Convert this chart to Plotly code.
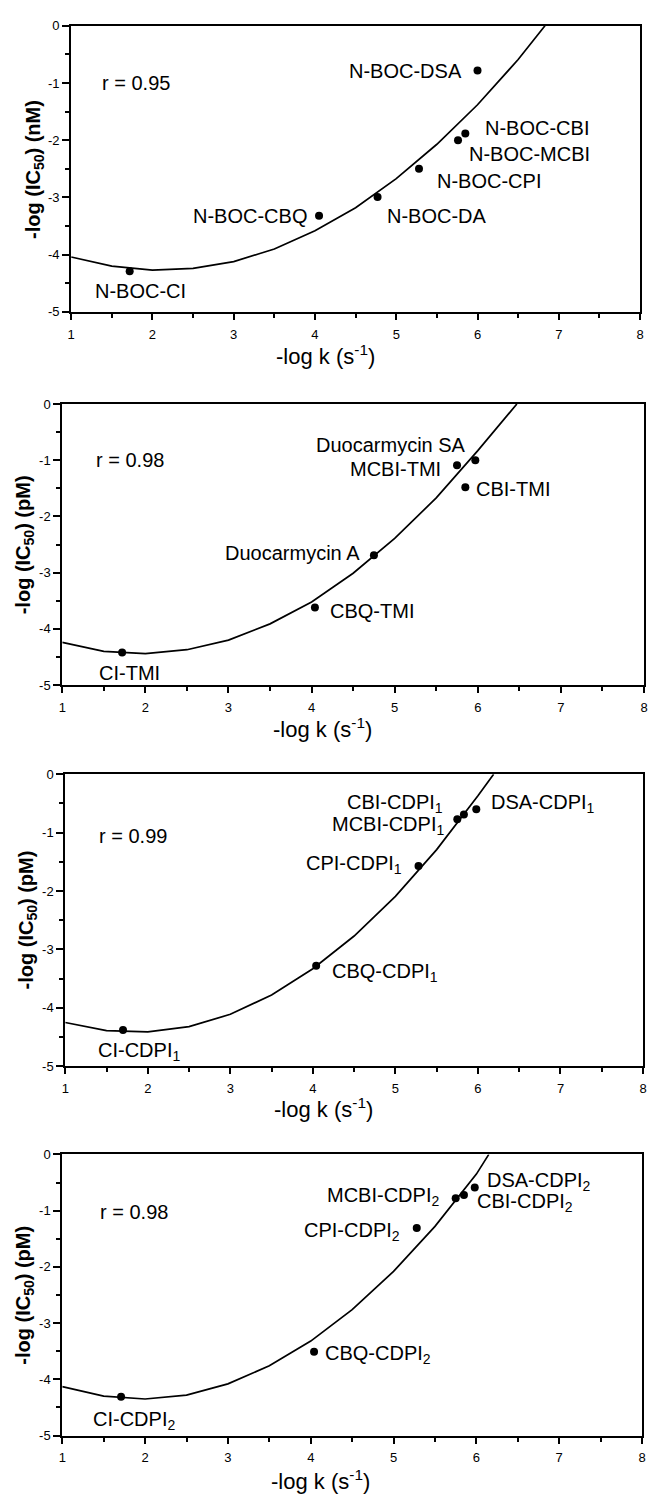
import plotly.graph_objects as go

W, H = 649, 1499

# ---------------- data ----------------
x_tick_vals = [1, 2, 3, 4, 5, 6, 7, 8]
x_tick_text = ["1", "2", "3", "4", "5", "6", "7", "8"]
y_tick_vals = [0, -1, -2, -3, -4, -5]
y_tick_text = ["0", "-1", "-2", "-3", "-4", "-5"]

# Panel 1 (nM)
p1_names = ["N-BOC-CI", "N-BOC-CBQ", "N-BOC-DA", "N-BOC-CPI", "N-BOC-MCBI", "N-BOC-CBI", "N-BOC-DSA"]
p1_x = [1.72, 4.05, 4.77, 5.28, 5.76, 5.85, 6.00]
p1_y = [-4.29, -3.32, -2.99, -2.50, -2.00, -1.88, -0.78]
p1_fit_x = [1.0, 1.5, 2.0, 2.5, 3.0, 3.5, 4.0, 4.5, 5.0, 5.5, 6.0, 6.5, 6.83]
p1_fit_y = [-4.04, -4.20, -4.27, -4.24, -4.12, -3.90, -3.58, -3.18, -2.67, -2.07, -1.38, -0.59, 0.0]
p1_r = "r = 0.95"
p1_ytitle = "-log (IC<sub>50</sub>) (nM)"

# Panel 2 (pM)
p2_names = ["CI-TMI", "CBQ-TMI", "Duocarmycin A", "MCBI-TMI", "CBI-TMI", "Duocarmycin SA"]
p2_x = [1.72, 4.04, 4.75, 5.75, 5.85, 5.97]
p2_y = [-4.42, -3.62, -2.69, -1.09, -1.48, -1.00]
p2_fit_x = [1.0, 1.5, 2.0, 2.5, 3.0, 3.5, 4.0, 4.5, 5.0, 5.5, 6.0, 6.47]
p2_fit_y = [-4.24, -4.40, -4.44, -4.37, -4.20, -3.91, -3.52, -3.01, -2.39, -1.67, -0.83, 0.0]
p2_r = "r = 0.98"
p2_ytitle = "-log (IC<sub>50</sub>) (pM)"

# Panel 3 (pM)
p3_names = ["CI-CDPI<sub>1</sub>", "CBQ-CDPI<sub>1</sub>", "CPI-CDPI<sub>1</sub>",
            "MCBI-CDPI<sub>1</sub>", "CBI-CDPI<sub>1</sub>", "DSA-CDPI<sub>1</sub>"]
p3_x = [1.70, 4.04, 5.28, 5.75, 5.83, 5.98]
p3_y = [-4.38, -3.28, -1.57, -0.77, -0.69, -0.60]
p3_fit_x = [1.0, 1.5, 2.0, 2.5, 3.0, 3.5, 4.0, 4.5, 5.0, 5.5, 6.0, 6.19]
p3_fit_y = [-4.25, -4.39, -4.41, -4.32, -4.11, -3.78, -3.33, -2.77, -2.09, -1.29, -0.37, 0.0]
p3_r = "r = 0.99"
p3_ytitle = "-log (IC<sub>50</sub>) (pM)"

# Panel 4 (pM)
p4_names = ["CI-CDPI<sub>2</sub>", "CBQ-CDPI<sub>2</sub>", "CPI-CDPI<sub>2</sub>",
            "MCBI-CDPI<sub>2</sub>", "CBI-CDPI<sub>2</sub>", "DSA-CDPI<sub>2</sub>"]
p4_x = [1.71, 4.04, 5.28, 5.75, 5.85, 5.98]
p4_y = [-4.31, -3.51, -1.31, -0.78, -0.72, -0.59]
p4_fit_x = [1.0, 1.5, 2.0, 2.5, 3.0, 3.5, 4.0, 4.5, 5.0, 5.5, 6.0, 6.15]
p4_fit_y = [-4.13, -4.30, -4.35, -4.28, -4.08, -3.76, -3.32, -2.76, -2.08, -1.28, -0.35, 0.0]
p4_r = "r = 0.98"
p4_ytitle = "-log (IC<sub>50</sub>) (pM)"

x_title = "-log k (s<sup>-1</sup>)"

# ---------------- layout (positions / styles) ----------------
FONT = "Liberation Sans, Arial, Helvetica, sans-serif"
LABEL_SIZE = 20

# label placement relative to its point: (xanchor, xshift px, yshift px)
p1_lab = [("center", 11, -20), ("right", -10, 0), ("left", 7, -19), ("left", 16, -12),
          ("left", 9, -14), ("left", 18, 5), ("right", -14, -1)]
p2_lab = [("center", 7, -20), ("left", 13, -3), ("right", -12, 2), ("right", -14, -4),
          ("left", 9, -2), ("right", -7, 15)]
p3_lab = [("center", 16, -21), ("left", 14, -7), ("right", -15, 1), ("right", -11, -6),
          ("right", -19, 11), ("left", 13, 6)]
p4_lab = [("center", 13, -24), ("left", 9, -3), ("right", -15, -3), ("right", -15, 2),
          ("left", 11, -8), ("left", 10, 6)]

# panel pixel boxes: (left, right, top, bottom)
boxes = [(68, 644, 19, 308), (59, 648, 401, 685), (62, 647, 775, 1070), (59, 646, 1159, 1443)]
ytitle_px = [(31, 164), (21, 543), (24, 922), (21, 1301)]
xtitle_px = [(326, 352), (322, 728), (323, 1112), (320, 1488)]
r_pos = [(1.36, -1.0), (1.38, -0.99), (1.39, -1.05), (1.43, -1.02)]

panels = [
    (p1_names, p1_x, p1_y, p1_fit_x, p1_fit_y, p1_r, p1_ytitle, p1_lab),
    (p2_names, p2_x, p2_y, p2_fit_x, p2_fit_y, p2_r, p2_ytitle, p2_lab),
    (p3_names, p3_x, p3_y, p3_fit_x, p3_fit_y, p3_r, p3_ytitle, p3_lab),
    (p4_names, p4_x, p4_y, p4_fit_x, p4_fit_y, p4_r, p4_ytitle, p4_lab),
]

fig = go.Figure()
annotations = []
layout_axes = {}

for i, (names, px, py, fx, fy, rtxt, ytit, labs) in enumerate(panels):
    n = "" if i == 0 else str(i + 1)
    xa, ya = "x" + n, "y" + n
    L, R, T, B = boxes[i]

    fig.add_trace(go.Scatter(x=fx, y=fy, mode="lines", xaxis=xa, yaxis=ya,
                             line=dict(color="black", width=1.7), showlegend=False,
                             hoverinfo="skip"))
    fig.add_trace(go.Scatter(x=px, y=py, mode="markers", xaxis=xa, yaxis=ya,
                             marker=dict(color="black", size=8), showlegend=False,
                             text=names, hoverinfo="text"))

    for name, x, y, (anc, dx, dy) in zip(names, px, py, labs):
        annotations.append(dict(x=x, y=y, xref=xa, yref=ya, text=name, showarrow=False,
                                xanchor=anc, yanchor="middle", xshift=dx, yshift=dy,
                                font=dict(family=FONT, size=LABEL_SIZE, color="black")))
    annotations.append(dict(x=r_pos[i][0], y=r_pos[i][1], xref=xa, yref=ya, text=rtxt,
                            showarrow=False, xanchor="left", yanchor="middle",
                            font=dict(family=FONT, size=LABEL_SIZE, color="black")))
    annotations.append(dict(x=ytitle_px[i][0] / W, y=1 - ytitle_px[i][1] / H, xref="paper",
                            yref="paper", text="<b>" + ytit + "</b>", textangle=-90,
                            showarrow=False, xanchor="center", yanchor="middle",
                            font=dict(family=FONT, size=20, color="black")))
    annotations.append(dict(x=xtitle_px[i][0] / W, y=1 - xtitle_px[i][1] / H, xref="paper",
                            yref="paper", text=x_title, showarrow=False,
                            xanchor="center", yanchor="middle",
                            font=dict(family=FONT, size=22, color="black")))

    common = dict(showline=True, linewidth=2, linecolor="black", mirror=True,
                  showgrid=False, zeroline=False, ticks="outside", tickcolor="black",
                  tickwidth=1.5, tickfont=dict(family=FONT, size=13, color="black"))
    layout_axes["xaxis" + n] = dict(
        domain=[L / W, R / W], anchor=ya, range=[1, 8],
        tickvals=x_tick_vals, ticktext=x_tick_text, ticklen=6, ticklabelstandoff=3,
        minor=dict(dtick=0.5, tick0=1, ticks="outside", ticklen=4, tickcolor="black",
                   tickwidth=1.5),
        **common)
    layout_axes["yaxis" + n] = dict(
        domain=[1 - B / H, 1 - T / H], anchor=xa, range=[-5, 0],
        tickvals=y_tick_vals, ticktext=y_tick_text, ticklen=7,
        minor=dict(dtick=0.5, tick0=0, ticks="outside", ticklen=4, tickcolor="black",
                   tickwidth=1.5),
        **common)

fig.update_layout(width=W, height=H, margin=dict(l=0, r=0, t=0, b=0),
                  paper_bgcolor="white", plot_bgcolor="white",
                  font=dict(family=FONT, color="black"),
                  annotations=annotations, **layout_axes)

fig.write_html("out.html")
